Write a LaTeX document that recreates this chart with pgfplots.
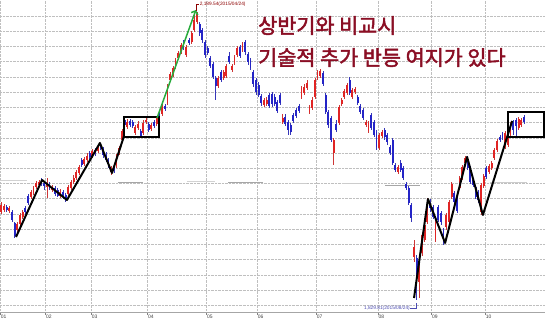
\documentclass[border=0pt]{standalone}
\usepackage{pgfplots}
\pgfplotsset{compat=1.18}
\usepackage{pgfplotstable}
\usepackage{fontspec}
\setmainfont{Liberation Sans}
\newfontfamily\kr{Noto Sans CJK KR}[AutoFakeBold=2.2]
\usetikzlibrary{arrows.meta}
\definecolor{upc}{RGB}{224,36,36}
\definecolor{dnc}{RGB}{36,36,198}
\definecolor{krc}{RGB}{138,14,36}
\definecolor{grn}{RGB}{40,170,60}

\pgfplotstableread{
i o h l c
0 1939.5 1952 1937 1948.3
1 1942 1949.5 1939.5 1947
2 1945.8 1948.3 1939.5 1942
3 1940.8 1947 1938.3 1944.5
4 1939.5 1942 1927 1929.5
5 1925.8 1927 1907 1909.5
6 1917 1927 1913.3 1924.5
7 1924.5 1938.3 1922 1935.8
8 1933.3 1942 1930.8 1939.5
9 1944.5 1947 1937 1939.5
10 1959.5 1962 1948.3 1950.8
11 1958.3 1967 1955.8 1964.5
12 1963.3 1972 1960.8 1969.5
13 1970.8 1978.3 1968.3 1975.8
14 1973.3 1979.5 1970.8 1977
15 1978.3 1982 1972 1974.5
16 1975.8 1978.3 1967 1972
17 1970.8 1982 1957 1974.5
18 1974.5 1977 1967 1969.5
19 1967 1973.3 1964.5 1970.8
20 1969.5 1972 1959.5 1962
21 1967 1969.5 1958.3 1959.5
22 1959.5 1968.3 1957 1964.5
23 1964.5 1967 1955.8 1958.3
24 1960.8 1963.3 1952 1954.5
25 1962 1973.3 1959.5 1970.8
26 1969.5 1979.5 1967 1977
27 1977 1985.8 1974.5 1982
28 1982 1992 1979.5 1989.5
29 1988.3 1998.3 1985.8 1995.8
30 2004.5 2007 1995.8 1998.3
31 1999.5 2008.3 1997 2005.8
32 2004.5 2013.3 2002 2009.5
33 2013.3 2015.8 2005.8 2008.3
34 2009.5 2018.3 2007 2015.8
35 2017 2019.5 2009.5 2013.3
36 2015.8 2024.5 2013.3 2022
37 2023.3 2025.8 2017 2019.5
38 2018.3 2020.8 2007 2010.8
39 2010.8 2014.5 2002 2004.5
40 2004.5 2007 1994.5 1997
41 1989.5 1997 1985.8 1994.5
42 1997 1999.5 1988.3 1992
43 1997 2012 1994.5 2010.8
44 2013.3 2022 2010.8 2019.5
45 2029.5 2043.3 2027 2040.8
46 2054.5 2057 2045.8 2048.3
47 2045.8 2055.8 2043.3 2052
48 2053.3 2055.8 2045.8 2048.3
49 2052 2054.5 2044.5 2047
50 2038.3 2048.3 2035.8 2045.8
51 2044.5 2053.3 2042 2049.5
52 2040.8 2043.3 2032 2034.5
53 2038.3 2054.5 2035.8 2050.8
54 2052 2057 2049.5 2054.5
55 2049.5 2052 2039.5 2042
56 2043.3 2050.8 2040.8 2048.3
57 2052 2054.5 2044.5 2047
58 2049.5 2059.5 2047 2057
59 2063.3 2067 2054.5 2058.3
60 2062 2074.5 2059.5 2072
61 2072 2074.5 2065.8 2068.3
62 2075.8 2099.5 2073.3 2097
63 2104.5 2114.5 2102 2112
64 2110.8 2122 2108.3 2119.5
65 2120.8 2132 2118.3 2129.5
66 2132 2140.8 2129.5 2138.3
67 2139.5 2150.8 2137 2148.3
68 2152 2154.5 2142 2147
69 2135.8 2148.3 2133.3 2145.8
70 2154.5 2157 2148.3 2150.8
71 2152 2165.8 2149.5 2163.3
72 2167 2185.8 2164.5 2179.5
73 2177 2189.54 2174.5 2187
74 2174.5 2177 2159.5 2163.3
75 2167 2169.5 2150.8 2154.5
76 2152 2154.5 2132 2135.8
77 2144.5 2147 2135.8 2138.3
78 2132 2134.5 2119.5 2122
79 2124.5 2127 2105.8 2108.3
80 2107 2109.5 2079.5 2097
81 2097 2109.5 2094.5 2107
82 2114.5 2117 2102 2104.5
83 2107 2117 2104.5 2114.5
84 2109.5 2124.5 2107 2122
85 2134.5 2139.5 2124.5 2127
86 2117 2124.5 2114.5 2122
87 2125.8 2135.8 2123.3 2133.3
88 2135.8 2147 2133.3 2144.5
89 2145.8 2148.3 2132 2134.5
90 2142 2152 2139.5 2149.5
91 2152 2154.5 2135.8 2139.5
92 2137 2139.5 2123.3 2127
93 2129.5 2132 2117 2119.5
94 2114.5 2117 2095.8 2099.5
95 2104.5 2107 2085.8 2089.5
96 2098.3 2102 2083.3 2085.8
97 2084.5 2087 2072 2075.8
98 2073.3 2082 2070.8 2079.5
99 2074.5 2083.3 2072 2079.5
100 2085.8 2088.3 2069.5 2072
101 2087 2089.5 2070.8 2074.5
102 2083.3 2087 2072 2074.5
103 2077 2079.5 2063.3 2065.8
104 2085.8 2088.3 2073.3 2075.8
105 2052 2062 2049.5 2057
106 2058.3 2062 2047 2049.5
107 2052 2054.5 2035.8 2042
108 2048.3 2050.8 2035.8 2039.5
109 2060.8 2063.3 2050.8 2053.3
110 2067 2069.5 2057 2059.5
111 2072 2074.5 2063.3 2065.8
112 2083.3 2097 2080.8 2094.5
113 2088.3 2099.5 2085.8 2095.8
114 2094.5 2104.5 2092 2100.8
115 2064.5 2073.3 2062 2070.8
116 2069.5 2083.3 2067 2079.5
117 2083.3 2107 2080.8 2104.5
118 2107 2117 2104.5 2114.5
119 2109.5 2118.3 2107 2115.8
120 2113.3 2115.8 2097 2099.5
121 2085.8 2088.3 2062 2064.5
122 2064.5 2067 2044.5 2048.3
123 2057 2059.5 2027 2029.5
124 2013.3 2032 1998.3 2029.5
125 2049.5 2054.5 2039.5 2042
126 2050.8 2073.3 2048.3 2070.8
127 2074.5 2082 2072 2079.5
128 2083.3 2093.3 2080.8 2090.8
129 2088.3 2100.8 2085.8 2098.3
130 2104.5 2108.3 2085.8 2088.3
131 2083.3 2094.5 2080.8 2092
132 2089.5 2095.8 2087 2093.3
133 2083.3 2085.8 2073.3 2075.8
134 2072 2074.5 2062 2064.5
135 2067 2069.5 2054.5 2057
136 2048.3 2054.5 2045.8 2052
137 2040.8 2053.3 2038.3 2050.8
138 2060.8 2063.3 2042 2044.5
139 2052 2054.5 2033.3 2035.8
140 2039.5 2042 2017 2020.8
141 2019.5 2038.3 2017 2035.8
142 2034.5 2042 2032 2039.5
143 2042 2044.5 2029.5 2033.3
144 2035.8 2038.3 2023.3 2027
145 2020.8 2023.3 2010.8 2013.3
146 2029.5 2032 1998.3 2000.8
147 1998.3 2000.8 1989.5 1992
148 1989.5 1998.3 1987 1995.8
149 2000.8 2004.5 1989.5 1992
150 1994.5 1997 1979.5 1982
151 1974.5 1977 1967 1969.5
152 1969.5 1972 1948.3 1950.8
153 1948.3 1950.8 1927 1932
154 1883.3 1904.5 1877 1895.8
155 1882 1885.8 1829.81 1858.3
156 1852 1877 1832 1870.8
157 1888.3 1913.3 1884.5 1910.8
158 1904.5 1927 1902 1923.3
159 1927 1957 1924.5 1947
160 1950.8 1955.8 1939.5 1944.5
161 1945.8 1948.3 1930.8 1933.3
162 1904.5 1932 1902 1927
163 1945.8 1948.3 1927 1929.5
164 1938.3 1940.8 1923.3 1927
165 1917 1919.5 1898.3 1902
166 1920.8 1938.3 1917 1935.8
167 1927 1954.5 1923.3 1952
168 1958.3 1977 1955.8 1974.5
169 1963.3 1965.8 1948.3 1952
170 1957 1959.5 1938.3 1940.8
171 1969.5 1984.5 1967 1982
172 1982 1998.3 1979.5 1995.8
173 2000.8 2009.5 1998.3 2007
174 2004.5 2009.5 1992 1994.5
175 1994.5 1997 1974.5 1977
176 1979.5 1982 1970.8 1973.3
177 1970.8 1973.3 1955.8 1958.3
178 1964.5 1967 1950.8 1954.5
179 1939.5 1975.8 1935.8 1973.3
180 1972 1987 1969.5 1984.5
181 1994.5 1997 1980.8 1983.3
182 1989.5 1999.5 1987 1997
183 1994.5 2003.3 1992 2000.8
184 2007 2019.5 2004.5 2017
185 2017 2030.8 2014.5 2028.3
186 2033.3 2035.8 2027 2029.5
187 2037 2039.5 2029.5 2032
188 2020.8 2040.8 2018.3 2038.3
189 2023.3 2035.8 2020.8 2033.3
190 2035.8 2052 2033.3 2049.5
191 2052 2054.5 2035.8 2042
192 2054.5 2057 2034.5 2047
193 2044.5 2058.3 2042 2055.8
194 2048.3 2057 2045.8 2054.5
195 2058.3 2060.8 2049.5 2052
}\ohlc

\begin{document}
\begin{tikzpicture}
\path[use as bounding box] (0,-8bp) rectangle (545bp,312bp);
\begin{axis}[
  at={(0,0)}, anchor=south west,
  scale only axis, width=545bp, height=312bp,
  xmin=-0.485, xmax=202.87, ymin=1814.5, ymax=2204.5,
  axis line style={draw=none},
  xtick={-0.45,16.5,33.5,54.5,76.5,95.5,117.5,140.5,160.5,180.5},
  xticklabels={01,02,03,04,05,06,07,08,09,10},
  xtick pos=left, tick align=outside, major tick length=2.5bp, minor tick length=0pt,
  xtick style={gray, line width=0.5bp},
  xticklabel style={anchor=north west, inner sep=0pt, xshift=0.5bp, yshift=-0.5bp, font=\fontsize{5}{5}\selectfont, text=black!75},
  ytick={1823,1842.025,...,2186},
  yticklabels={}, ytick style={draw=none}, minor y tick num=1,
  ymajorgrids, yminorgrids, xmajorgrids,
  major grid style={gray!50, densely dotted, line width=0.5bp},
  minor grid style={gray!22, densely dotted, line width=0.5bp},
  clip mode=individual,
]
% reference level segments
\addplot[gray!35, line width=1bp, forget plot] coordinates {(-0.5,1978.3) (9.6,1978.3)};
\addplot[gray!70, line width=1bp, forget plot] coordinates {(43.5,1975.8) (52.9,1975.8)};
\addplot[gray!35, line width=1bp, forget plot] coordinates {(69.3,1977) (79.7,1977)};
\addplot[gray!70, line width=1bp, forget plot] coordinates {(84.6,1975.8) (97.6,1975.8)};
\addplot[gray!40, line width=1bp, forget plot] coordinates {(108.8,1974.5) (114.1,1974.5)};
\addplot[gray!40, line width=1bp, forget plot] coordinates {(127.1,1974.5) (138.7,1974.5)};
\addplot[gray!70, line width=1bp, forget plot] coordinates {(143.2,1972.6) (156.2,1972.6)};
\addplot[gray!40, line width=1bp, forget plot] coordinates {(182.3,1975.8) (196.2,1975.8)};
% up candles
\addplot[draw=none, mark=none, forget plot, restrict expr to domain={\thisrow{c}-\thisrow{o}}{0:1000},
  error bars/.cd, y dir=both, y explicit, error mark=none, error bar style={draw=upc!80!gray, line width=0.55bp}]
  table[x=i, y=c, y error plus expr=\thisrow{h}-\thisrow{c}, y error minus expr=\thisrow{c}-\thisrow{l}] {\ohlc};
\addplot[draw=none, mark=none, forget plot, restrict expr to domain={\thisrow{c}-\thisrow{o}}{0:1000},
  error bars/.cd, y dir=plus, y explicit, error mark=none, error bar style={draw=upc, line width=1.9bp}]
  table[x=i, y=o, y error plus expr=\thisrow{c}-\thisrow{o}] {\ohlc};
% down candles
\addplot[draw=none, mark=none, forget plot, restrict expr to domain={\thisrow{c}-\thisrow{o}}{-1000:-0.001},
  error bars/.cd, y dir=both, y explicit, error mark=none, error bar style={draw=dnc!80!gray, line width=0.55bp}]
  table[x=i, y=c, y error plus expr=\thisrow{h}-\thisrow{c}, y error minus expr=\thisrow{c}-\thisrow{l}] {\ohlc};
\addplot[draw=none, mark=none, forget plot, restrict expr to domain={\thisrow{c}-\thisrow{o}}{-1000:-0.001},
  error bars/.cd, y dir=minus, y explicit, error mark=none, error bar style={draw=dnc, line width=1.9bp}]
  table[x=i, y=o, y error minus expr=\thisrow{o}-\thisrow{c}] {\ohlc};
% trend annotations
\addplot[black, line width=2bp, line join=round] coordinates {(5.5,1908.3) (15.2,1979.5) (24.5,1954.5) (36.8,2025.8) (41.3,1988.3) (45.8,2034.5)};
\addplot[black, line width=1.6bp] coordinates {(45.8,2033.3) (45.8,2058.3) (58.8,2058.3) (58.8,2033.3) (45.8,2033.3)};
\addplot[grn, line width=1.5bp, -{Straight Barb[length=3bp, width=7bp]}] coordinates {(58.1,2057) (72.6,2192)};
\addplot[black, line width=2bp, line join=round] coordinates {(154.0,1832) (159.2,1955.8) (165.6,1900.8) (173.8,2008.3) (179.7,1935.8) (190.6,2053.3)};
\addplot[black, line width=1.6bp] coordinates {(189.1,2033.3) (189.1,2064.5) (202.4,2064.5) (202.4,2033.3) (189.1,2033.3)};
% high / low markers
\addplot[red!55!black, line width=0.5bp] coordinates {(72.9,2190.5) (72.9,2199) (73.9,2199)};
\addplot[blue!40!gray, line width=0.5bp] coordinates {(152.6,1819.5) (155.0,1819.5) (155.0,1826)};
\node[anchor=west, inner sep=0pt, text=red!55!black, font=\fontsize{4.8}{5}\selectfont] at (axis cs:74.0,2199) {2,189.54(2015/04/24)};
\node[anchor=east, inner sep=0pt, text=blue!40!gray, font=\fontsize{4.8}{5}\selectfont] at (axis cs:152.5,1819.5) {1,829.81(2015/08/24)};
% Korean text
\node[anchor=west, inner sep=0pt, text=krc, font=\kr\bfseries\fontsize{20.8}{21}\selectfont] at (axis cs:95.8,2172.5) {상반기와 비교시};
\node[anchor=west, inner sep=0pt, text=krc, font=\kr\bfseries\fontsize{20.8}{21}\selectfont] at (axis cs:95.8,2132.5) {기술적 추가 반등 여지가 있다};
\draw[gray!70, line width=0.8bp] (rel axis cs:0,0) -- (rel axis cs:1,0);
\end{axis}
\end{tikzpicture}
\end{document}
